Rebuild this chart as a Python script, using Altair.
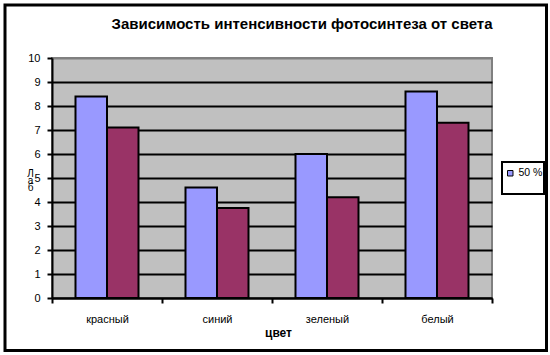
import altair as alt
import pandas as pd

categories = ["красный", "синий", "зеленый", "белый"]
series = ["50 %", "Ряд 2"]
values_50 = [8.4, 4.6, 6.0, 8.6]
values_2 = [7.1, 3.75, 4.2, 7.3]
colors = ["#9999FF", "#993366"]

rows = []
for c, a, b in zip(categories, values_50, values_2):
    rows.append({"cat": c, "series": series[0], "value": a})
    rows.append({"cat": c, "series": series[1], "value": b})
df = pd.DataFrame(rows)

FONT = "Liberation Sans"

bars = alt.Chart(df).mark_bar(stroke="black", strokeWidth=2).encode(
    x=alt.X(
        "cat:N",
        sort=categories,
        scale=alt.Scale(paddingInner=0, paddingOuter=0),
        axis=alt.Axis(
            title="цвет",
            titleFontSize=12,
            titleFontWeight="bold",
            titleFont=FONT,
            titleColor="black",
            titleX=226,
            titleY=29,
            titleBaseline="top",
            labelAngle=0,
            labelFontSize=11,
            labelFont=FONT,
            labelColor="black",
            labelPadding=10,
            tickBand="extent",
            tickSize=5,
            tickColor="black",
            tickWidth=2,
            domainColor="black",
            domainWidth=2,
            grid=False,
        ),
    ),
    xOffset=alt.XOffset(
        "series:N", sort=series, scale=alt.Scale(paddingInner=0, paddingOuter=0.746)
    ),
    y=alt.Y(
        "value:Q",
        scale=alt.Scale(domain=[0, 10], nice=False),
        axis=alt.Axis(
            values=list(range(11)),
            grid=True,
            gridColor={"condition": {"test": "datum.value == 10", "value": "#808080"}, "value": "black"},
            gridWidth=2,
            domainColor="black",
            domainWidth=2,
            tickColor="black",
            tickWidth=2,
            tickSize=5,
            labelPadding=7,
            labelFontSize=11,
            labelFont=FONT,
            labelColor="black",
            title=["Л", "а", "б"],
            titleAngle=0,
            titleFontSize=10,
            titleFont=FONT,
            titleFontWeight="normal",
            titleColor="black",
            titleLineHeight=7,
            titleX=-22,
            titleY=110,
            titleAlign="center",
            titleBaseline="top",
        ),
    ),
    color=alt.Color(
        "series:N",
        scale=alt.Scale(domain=series, range=colors),
        legend=alt.Legend(
            values=["50 %"],
            title=None,
            orient="none",
            legendX=453,
            legendY=110,
            padding=0,
            symbolType="square",
            symbolSize=30,
            symbolStrokeColor="black",
            symbolStrokeWidth=1,
            labelFontSize=10.5,
            labelFont=FONT,
            labelColor="black",
            labelOffset=3,
        ),
    ),
)

one = pd.DataFrame({"k": [0]})

legend_box = alt.Chart(one).mark_rect(fill="white", stroke="black", strokeWidth=2).encode(
    x=alt.value(450), x2=alt.value(492), y=alt.value(104), y2=alt.value(136)
)

frame = alt.Chart(one).mark_rect(filled=False, stroke="black", strokeWidth=3).encode(
    x=alt.value(-47), x2=alt.value(494.5), y=alt.value(-53), y2=alt.value(292.5)
)

chart = alt.layer(bars, legend_box, frame).properties(
    width=440,
    height=240,
    autosize=alt.AutoSizeParams(type="none"),
    padding={"left": 52, "top": 58, "right": 58, "bottom": 57},
    background="white",
    title=alt.Title(
        "Зависимость интенсивности фотосинтеза от света",
        fontSize=15,
        fontWeight="bold",
        font=FONT,
        color="black",
        anchor="middle",
        frame="group",
        dx=30,
        dy=40,
        offset=0,
        baseline="alphabetic",
    ),
).configure_view(fill="#C0C0C0", stroke="#808080", strokeWidth=2)

chart.save("out.html", embed_options={"renderer": "svg", "actions": False})
